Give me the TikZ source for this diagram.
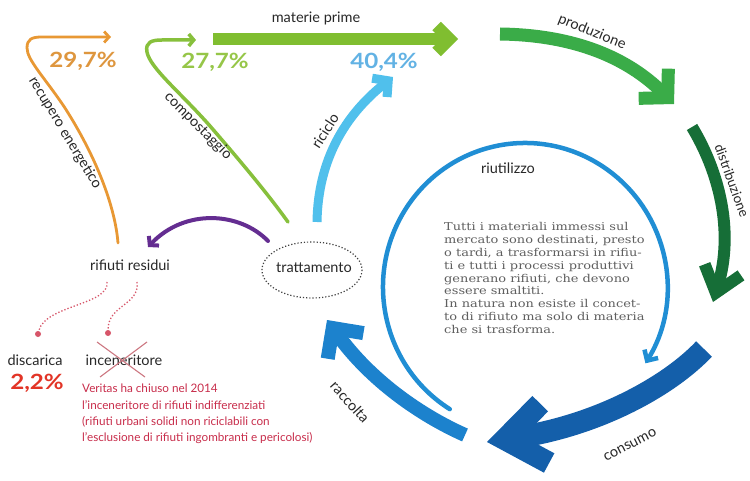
\documentclass[tikz,border=0pt]{standalone}
\usepackage{fontspec}
\setmainfont{Lato}
\newfontfamily\parafont[FakeStretch=1.2]{DejaVu Serif}
\newfontfamily\pctfont[FakeStretch=1.15]{Lato}
\usetikzlibrary{arrows.meta,shapes.geometric,calc}
\definecolor{cOrange}{RGB}{232,152,52}
\definecolor{cOrangeT}{RGB}{222,150,62}
\definecolor{cLGreen}{RGB}{135,192,60}
\definecolor{cLGreenT}{RGB}{150,198,72}
\definecolor{cMGreen}{RGB}{128,190,48}
\definecolor{cPGreen}{RGB}{58,172,72}
\definecolor{cDGreen}{RGB}{22,110,55}
\definecolor{cCons}{RGB}{20,95,170}
\definecolor{cRacc}{RGB}{28,130,205}
\definecolor{cRing}{RGB}{32,142,212}
\definecolor{cSky}{RGB}{80,192,236}
\definecolor{cSkyT}{RGB}{98,178,228}
\definecolor{cPurple}{RGB}{100,45,145}
\definecolor{cPink}{RGB}{215,85,105}
\definecolor{cNote}{RGB}{200,45,75}
\definecolor{cRed}{RGB}{226,52,38}
\definecolor{cText}{RGB}{40,40,40}
\definecolor{cPara}{RGB}{95,95,95}
\definecolor{cCross}{RGB}{205,120,130}
\begin{document}
\begin{tikzpicture}[x=1pt,y=-1pt,
  lbl/.style={text=cText, font=\fontsize{14.5}{16}\selectfont, inner sep=1pt},
  pct/.style={font=\pctfont\fontsize{21}{23}\selectfont\bfseries, inner sep=0pt},
  flow/.style={line cap=butt, line join=miter},
  thin/.style={line cap=round, line join=round},
]
\useasboundingbox (0,0) rectangle (750,481);
\fill[white] (0,0) rectangle (750,481);

% main nodes
\node[lbl] (rr) at (130,265) {rifiuti residui};
\node[lbl] (tr) at (314,268) {trattamento};
\draw[black!75, line width=1.2pt, dotted] (312,270) ellipse [x radius=50, y radius=28];
\coordinate (rc) at (525,287);

% big flow arrows
\draw[flow, cMGreen, line width=12pt, -{Straight Barb[length=13pt,width=26pt]}] (213,39) -- (458,39);
\draw[flow, cPGreen, line width=13pt, -{Straight Barb[length=20pt,width=42pt]}] (500,34) .. controls (575,35) and (628,58) .. (674,104);
\draw[flow, cDGreen, line width=12pt, -{Straight Barb[length=24pt,width=38pt]}] (692,127) .. controls (718,170) and (735,230) .. (713,302);
\draw[flow, cCons, line width=22pt, -{Straight Barb[length=40pt,width=60pt]}] (704,349) .. controls (670,385) and (600,425) .. (487,442);
\draw[flow, cRacc, line width=14pt, -{Straight Barb[length=22pt,width=44pt]}] (465,435) .. controls (420,415) and (370,380) .. (327,320);
\draw[flow, cSky, line width=9pt, -{Straight Barb[length=11pt,width=24pt]}] ($(tr)+(3,-46)$) .. controls (318,160) and (345,115) .. (393,77);

% ring
\draw[thin, cRing, line width=4.5pt, -{Straight Barb[length=8pt,width=16pt]}] (rc) ++(122:142 and 144) arc[start angle=122, end angle=392, x radius=142, y radius=144];

% thin arrows
\draw[thin, cOrange, line width=2.8pt, -{Straight Barb[length=5pt,width=11pt]}] ($(rr)+(-12,-22)$) .. controls (115,205) and (95,155) .. (65,108) .. controls (45,78) and (27,60) .. (27,48) .. controls (27,39) and (32,37) .. (42,37) -- (111,37);
\draw[thin, cLGreen, line width=3.5pt, -{Straight Barb[length=5pt,width=12pt]}] ($(tr)+(-26,-46)$) .. controls (265,190) and (235,155) .. (210,126) .. controls (180,92) and (150,68) .. (147,52) .. controls (145,42) and (152,40) .. (162,40) -- (196,40);
\draw[thin, cPurple, line width=4pt, -{Straight Barb[length=6pt,width=14pt]}] ($(tr)+(-46,-27)$) .. controls (240,212) and (185,208) .. ($(rr)+(18,-18)$);

% labels
\node[lbl] (lmp) at (316,18) {materie prime};
\node[lbl, rotate=-22] (lpr) at (592,32) {produzione};
\node[lbl, rotate=-70, font=\fontsize{13.5}{15}\selectfont] (ldi) at (732,181) {distribuzione};
\node[lbl, rotate=27] (lco) at (630,445) {consumo};
\node[lbl, rotate=-48] (lra) at (350,402) {raccolta};
\node[lbl, rotate=57] (lri) at (325,131) {riciclo};
\node[lbl, rotate=-59] (lre) at (65,133) {recupero energetico};
\node[lbl, rotate=-45] (lcm) at (198,126) {compostaggio};
\node[lbl] (lru) at (508,168) {riutilizzo};

% percentages
\node[pct, text=cOrangeT] (p1) at (83,61) {29,7\%};
\node[pct, text=cLGreenT] (p2) at (215,62) {27,7\%};
\node[pct, text=cSkyT] (p3) at (384,62) {40,4\%};

% destinations
\node[circle, fill=cPink, inner sep=0pt, minimum size=6pt] (m1) at (38,334) {};
\node[circle, fill=cPink, inner sep=0pt, minimum size=6pt] (m2) at (108,333) {};
\draw[cPink, line width=1.3pt, dotted] ($(rr)+(-23,17)$) .. controls (110,305) and (45,305) .. (m1);
\draw[cPink, line width=1.3pt, dotted] ($(rr)+(7,17)$) .. controls (140,305) and (108,305) .. (m2);
\node[lbl] (dis) at (35,360) {discarica};
\node[pct, text=cRed] (p4) at (37,383) {2,2\%};
\node[lbl] (inc) at (124,360) {inceneritore};
\draw[cCross, line width=1.1pt] (97,342) -- (145,377) (147,342) -- (100,377);

\node[anchor=north west, align=left, inner sep=0pt, text=cNote, font=\fontsize{11.7}{16.3}\selectfont] (note) at (82,384) {Veritas ha chiuso nel 2014\\ l'inceneritore di rifiuti indifferenziati\\ (rifiuti urbani solidi non riciclabili con\\ l'esclusione di rifiuti ingombranti e pericolosi)};

\node[anchor=north west, align=left, inner sep=0pt, text=cPara, font=\parafont\fontsize{10.8}{12.9}\selectfont] (para) at (444,222) {Tutti i materiali immessi sul\\ mercato sono destinati, presto\\ o tardi, a trasformarsi in rifiu-\\ ti e tutti i processi produttivi\\ generano rifiuti, che devono\\ essere smaltiti.\\ In natura non esiste il concet-\\ to di rifiuto ma solo di materia\\ che si trasforma.};
\end{tikzpicture}
\end{document}
